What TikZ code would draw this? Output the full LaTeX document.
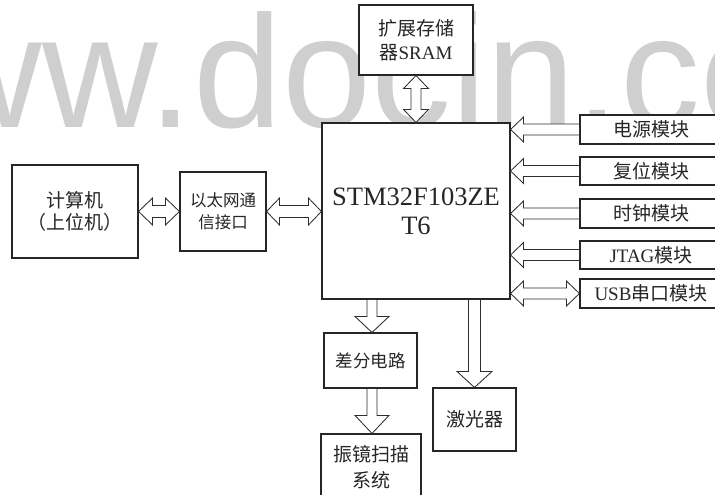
\documentclass[tikz,border=0pt]{standalone}
\usepackage{fontspec}
\setmainfont{Liberation Serif}
\newfontfamily\cjk{Noto Sans CJK SC}
\newfontfamily\wmfont{Liberation Sans}
\usetikzlibrary{calc}
% single arrow pointing left: #1 start (right end), #2 tip
\newcommand\fatleft[5]{%
\draw[fat] let \p1=#1, \p2=#2 in
 (\x1,\y2+#3) -- (\x2+#5,\y2+#3) -- (\x2+#5,\y2+#4) -- (\x2,\y2) -- (\x2+#5,\y2-#4) -- (\x2+#5,\y2-#3) -- (\x1,\y2-#3) -- cycle;}
% single arrow pointing down: #1 start (top), #2 tip
\newcommand\fatdown[5]{%
\draw[fat] let \p1=#1, \p2=#2 in
 (\x2-#3,\y1) -- (\x2-#3,\y2+#5) -- (\x2-#4,\y2+#5) -- (\x2,\y2) -- (\x2+#4,\y2+#5) -- (\x2+#3,\y2+#5) -- (\x2+#3,\y1) -- cycle;}
% double horizontal arrow: #1 left tip, #2 right tip
\newcommand\fatlr[5]{%
\draw[fat] let \p1=#1, \p2=#2 in
 (\x1,\y1) -- (\x1+#5,\y1+#4) -- (\x1+#5,\y1+#3) -- (\x2-#5,\y1+#3) -- (\x2-#5,\y1+#4) -- (\x2,\y1)
 -- (\x2-#5,\y1-#4) -- (\x2-#5,\y1-#3) -- (\x1+#5,\y1-#3) -- (\x1+#5,\y1-#4) -- cycle;}
% double vertical arrow: #1 top tip, #2 bottom tip
\newcommand\fatud[5]{%
\draw[fat] let \p1=#1, \p2=#2 in
 (\x2,\y1) -- (\x2+#4,\y1-#5) -- (\x2+#3,\y1-#5) -- (\x2+#3,\y2+#5) -- (\x2+#4,\y2+#5) -- (\x2,\y2)
 -- (\x2-#4,\y2+#5) -- (\x2-#3,\y2+#5) -- (\x2-#3,\y1-#5) -- (\x2-#4,\y1-#5) -- cycle;}
\begin{document}
\begin{tikzpicture}[x=1pt,y=-1pt,
  box/.style={draw=black!85, line width=1.1pt, fill=white, inner sep=0pt, align=center, text=black!85},
  fat/.style={draw=black!82, line width=0.85pt, fill=white},
  cjkf/.style={font=\fontsize{19}{25}\selectfont}]
\useasboundingbox (0,0) rectangle (715,495);
\clip (0,0) rectangle (715,495);
\fill[white] (0,0) rectangle (715,495);
% watermark
\node[anchor=base west, inner sep=0pt, text=black!19, font=\wmfont\fontsize{160}{160}\selectfont] (wm) at (-189,128) {www.docin.co};
% boxes
\node[box, cjkf, minimum width=114pt, minimum height=70pt] (sram) at (416,40) {{\cjk 扩展存储}\\[-1pt]{\cjk 器}SRAM};
\node[box, minimum width=188pt, minimum height=176pt, font=\fontsize{26.5}{29}\selectfont] (mcu) at (416,211) {STM32F103ZE\\T6};
\node[box, font=\cjk\fontsize{19}{22}\selectfont, minimum width=126pt, minimum height=93pt] (pc) at (75,211.5) {\raisebox{-3pt}{计算机}\\\raisebox{-3pt}{（上位机）}};
\node[box, font=\cjk\fontsize{16.5}{22}\selectfont, minimum width=86pt, minimum height=79pt] (eth) at (223,211.5) {以太网通\\信接口};
\node[box, font=\cjk\fontsize{19}{22}\selectfont, minimum width=142pt, minimum height=29pt] (m1) at (651,129.5) {电源模块};
\node[box, font=\cjk\fontsize{19}{22}\selectfont, minimum width=142pt, minimum height=28pt] (m2) at (651,171) {复位模块};
\node[box, font=\cjk\fontsize{19}{22}\selectfont, minimum width=142pt, minimum height=29pt] (m3) at (651,213.5) {时钟模块};
\node[box, font=\fontsize{19}{22}\selectfont, minimum width=142pt, minimum height=28pt] (m4) at (651,255) {JTAG{\cjk 模块}};
\node[box, font=\fontsize{19}{22}\selectfont, minimum width=142pt, minimum height=29pt] (m5) at (651,293.5) {USB{\cjk 串口模块}};
\node[box, font=\cjk\fontsize{17.5}{22}\selectfont, minimum width=93pt, minimum height=55pt] (diff) at (370.5,360.5) {差分电路};
\node[box, font=\cjk\fontsize{19}{26}\selectfont, minimum width=100pt, minimum height=66pt] (galvo) at (371,467) {振镜扫描\\系统};
\node[box, font=\cjk\fontsize{19}{22}\selectfont, minimum width=83pt, minimum height=63pt] (laser) at (474.5,419.5) {激光器};
% connectors
\fatud{(sram.south)}{(mcu.north)}{5pt}{12.5pt}{13pt}
\fatlr{(pc.east)}{(eth.west)}{6pt}{13.5pt}{14pt}
\fatlr{(eth.east)}{(mcu.west |- eth.east)}{6pt}{13.5pt}{13pt}
\fatleft{(m1.west)}{(mcu.east |- m1.west)}{5.5pt}{12.5pt}{13pt}
\fatleft{(m2.west)}{(mcu.east |- m2.west)}{5.5pt}{12.5pt}{13pt}
\fatleft{(m3.west)}{(mcu.east |- m3.west)}{5.5pt}{12.5pt}{13pt}
\fatleft{(m4.west)}{(mcu.east |- m4.west)}{5.5pt}{12.5pt}{13pt}
\fatlr{(mcu.east |- m5.west)}{(m5.west)}{5.5pt}{12.5pt}{13pt}
\fatdown{(mcu.south -| 372,0)}{(diff.north -| 372,0)}{5pt}{17pt}{16pt}
\fatdown{(diff.south -| 372,0)}{(galvo.north -| 372,0)}{5pt}{17pt}{18pt}
\fatdown{(laser.north |- mcu.south)}{(laser.north)}{6pt}{17.5pt}{16pt}
\end{tikzpicture}
\end{document}
